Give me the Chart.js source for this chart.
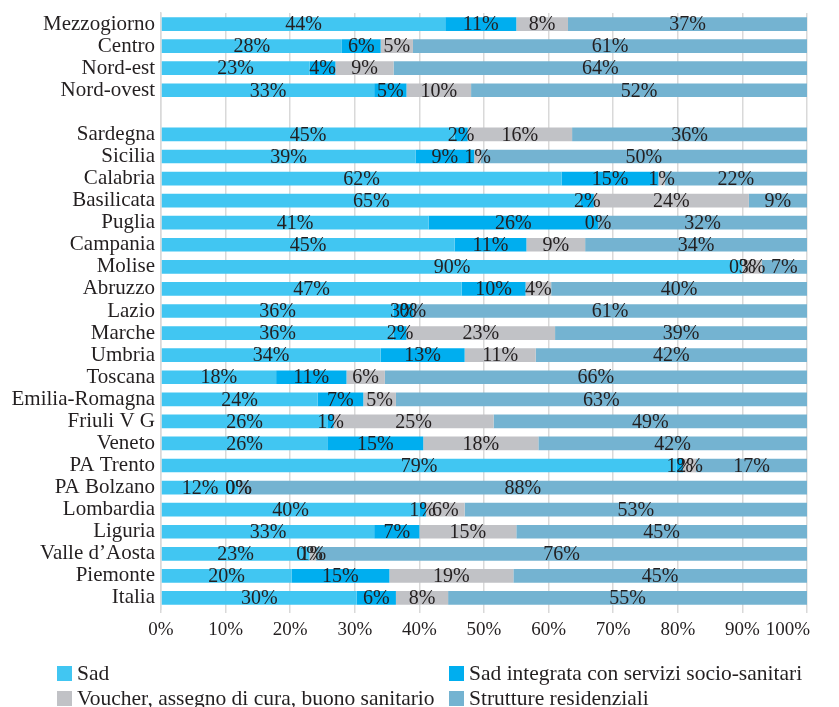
<!DOCTYPE html>
<html>
<head>
<meta charset="utf-8">
<script src="https://cdn.jsdelivr.net/npm/chart.js@4.4.0/dist/chart.umd.min.js"></script>
<style>
  html, body { margin: 0; padding: 0; background: #ffffff; }
  canvas { display: block; }
</style>
</head>
<body>
<canvas id="bar-chart" width="839" height="707"></canvas>
<script>
// ripartizioni, riga vuota, regioni, Italia (dall'alto verso il basso)
var categories = [
  "Mezzogiorno", "Centro", "Nord-est", "Nord-ovest", "",
  "Sardegna", "Sicilia", "Calabria", "Basilicata", "Puglia", "Campania",
  "Molise", "Abruzzo", "Lazio", "Marche", "Umbria", "Toscana",
  "Emilia-Romagna", "Friuli V G", "Veneto", "PA Trento", "PA Bolzano",
  "Lombardia", "Liguria", "Valle d\u2019Aosta", "Piemonte", "Italia"
];

var sad = [44, 28, 23, 33, null, 45, 39, 62, 65, 41, 45, 90, 47, 36, 36, 34, 18, 24, 26, 26, 79, 12, 40, 33, 23, 20, 30];
var sadIntegrata = [11, 6, 4, 5, null, 2, 9, 15, 2, 26, 11, 0, 10, 3, 2, 13, 11, 7, 1, 15, 1, 0, 1, 7, 0, 15, 6];
var voucher = [8, 5, 9, 10, null, 16, 1, 1, 24, 0, 9, 3, 4, 0, 23, 11, 6, 5, 25, 18, 2, 0, 6, 15, 1, 19, 8];
var strutture = [37, 61, 64, 52, null, 36, 50, 22, 9, 32, 34, 7, 40, 61, 39, 42, 66, 63, 49, 42, 17, 88, 53, 45, 76, 45, 55];

var seriesNames = [
  "Sad",
  "Sad integrata con servizi socio-sanitari",
  "Voucher, assegno di cura, buono sanitario",
  "Strutture residenziali"
];
var seriesColors = ["#41c6f2", "#00aeef", "#c1c2c6", "#74b3d1"];
var xTicks = [0, 10, 20, 30, 40, 50, 60, 70, 80, 90, 100];

var FONT = "'Liberation Serif', 'DejaVu Serif', serif";
var TEXT = "#231f20";

var series = [sad, sadIntegrata, voucher, strutture];

// barre al 100%: ogni riga riportata a somma 100
var totals = categories.map(function (c, i) {
  var t = 0;
  series.forEach(function (s) { t += s[i] || 0; });
  return t;
});

var datasets = series.map(function (s, k) {
  return {
    label: seriesNames[k],
    data: s.map(function (v, i) { return v === null ? null : (v / totals[i]) * 100; }),
    values: s,
    backgroundColor: seriesColors[k],
    borderWidth: 0,
    barPercentage: 0.62,
    categoryPercentage: 1
  };
});

// etichette percentuali al centro di ogni segmento
var valueLabels = {
  id: "valueLabels",
  afterDatasetsDraw: function (chart) {
    var ctx = chart.ctx;
    ctx.save();
    ctx.font = "20px " + FONT;
    ctx.fillStyle = TEXT;
    ctx.textAlign = "center";
    ctx.textBaseline = "middle";
    chart.data.datasets.forEach(function (ds, k) {
      var meta = chart.getDatasetMeta(k);
      meta.data.forEach(function (bar, i) {
        var v = ds.values[i];
        if (v === null) return;
        var p = bar.getCenterPoint();
        ctx.fillText(v + "%", p.x, p.y + 1);
      });
    });
    ctx.restore();
  }
};

// etichette dell'asse x: l'ultima resta dentro il bordo destro
var xTickLabels = {
  id: "xTickLabels",
  afterDraw: function (chart) {
    var ctx = chart.ctx;
    var scale = chart.scales.x;
    var limit = chart.chartArea.right + 3;
    ctx.save();
    ctx.font = "19px " + FONT;
    ctx.fillStyle = TEXT;
    ctx.textAlign = "center";
    ctx.textBaseline = "middle";
    xTicks.forEach(function (v) {
      var text = v + "%";
      var w = ctx.measureText(text).width;
      var x = scale.getPixelForValue(v);
      if (x + w / 2 > limit) x = limit - w / 2;
      ctx.fillText(text, x, 630);
    });
    ctx.restore();
  }
};

// legenda su due colonne sotto l'asse
var bottomLegend = {
  id: "bottomLegend",
  afterDraw: function (chart) {
    var ctx = chart.ctx;
    var cols = [57, 449];
    var rows = [674, 699];
    ctx.save();
    ctx.font = "21.5px " + FONT;
    ctx.textBaseline = "middle";
    ctx.textAlign = "left";
    chart.data.datasets.forEach(function (ds, k) {
      var x = cols[k % 2];
      var y = rows[Math.floor(k / 2)];
      ctx.fillStyle = ds.backgroundColor;
      ctx.fillRect(x, y - 8, 15, 15);
      ctx.fillStyle = TEXT;
      ctx.fillText(ds.label, x + 20, y);
    });
    ctx.restore();
  }
};

var config = {
  type: "bar",
  data: {
    labels: categories,
    datasets: datasets
  },
  options: {
    indexAxis: "y",
    responsive: false,
    animation: false,
    layout: {
      padding: { top: 13, right: 32, bottom: 0, left: 0 }
    },
    scales: {
      x: {
        stacked: true,
        min: 0,
        max: 100,
        afterBuildTicks: function (scale) {
          scale.ticks = xTicks.map(function (v) { return { value: v }; });
        },
        afterFit: function (scale) { scale.height = 98; },
        grid: {
          color: "#d9d9d9",
          lineWidth: 1.5,
          tickLength: 4,
          drawTicks: true
        },
        border: { display: false },
        ticks: { display: false }
      },
      y: {
        stacked: true,
        afterFit: function (scale) {
          scale.width = 161;
          scale.paddingTop = 0;
          scale.paddingBottom = 0;
        },
        grid: { display: false, drawTicks: false },
        border: { display: true, color: "#d9d9d9", width: 1.5 },
        ticks: {
          padding: 6,
          color: TEXT,
          font: { family: FONT, size: 21, lineHeight: 1 },
          autoSkip: false
        }
      }
    },
    plugins: {
      legend: { display: false },
      tooltip: { enabled: false }
    }
  },
  plugins: [valueLabels, xTickLabels, bottomLegend]
};

var myBarChart = new Chart(document.getElementById("bar-chart"), config);
</script>
</body>
</html>
